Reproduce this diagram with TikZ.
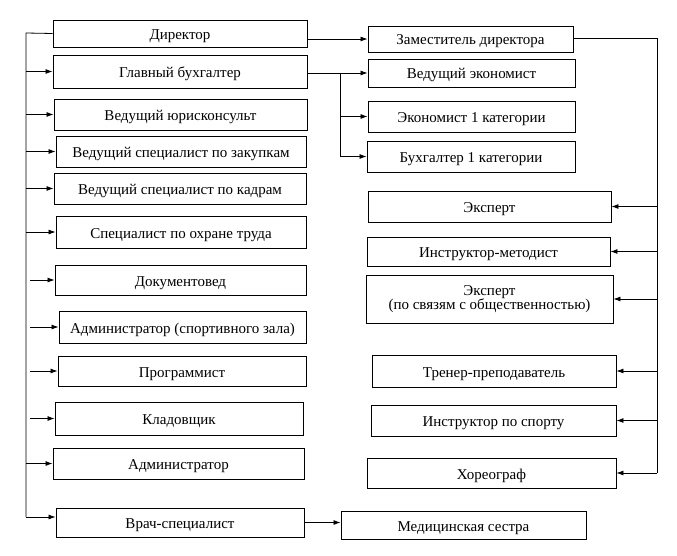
\documentclass[tikz,border=0pt]{standalone}
\usepackage{fontspec}
\setmainfont{Liberation Serif}
\usetikzlibrary{arrows.meta}
\begin{document}
\begin{tikzpicture}[x=1pt,y=-1pt,
  boxbase/.style={draw, line width=0.9pt, inner sep=0pt, font=\fontsize{15}{14.5}\selectfont, align=center},
  box/.style={boxbase, text height=13pt, text depth=1pt},
  arr/.style={-{Latex[length=7pt,width=5pt]}, line width=0.8pt},
  ln/.style={line width=0.8pt}]
\useasboundingbox (0,0) rectangle (677,556);
% left column
\node[box, minimum width=254pt, minimum height=27pt] (dir) at (180,33.5) {Директор};
\node[box, minimum width=254pt, minimum height=33pt] (gb) at (180,71.5) {Главный бухгалтер};
\node[box, minimum width=253pt, minimum height=31pt] (yur) at (180.5,114.5) {Ведущий юрисконсульт};
\node[box, minimum width=250pt, minimum height=31pt] (zak) at (181,151.5) {Ведущий специалист по закупкам};
\node[box, minimum width=252pt, minimum height=31pt] (kad) at (180,188.5) {Ведущий специалист по кадрам};
\node[box, minimum width=250pt, minimum height=32pt] (ohr) at (181,232) {Специалист по охране труда};
\node[box, minimum width=251pt, minimum height=30pt] (dok) at (180.5,280) {Документовед};
\node[box, minimum width=247pt, minimum height=32pt] (adms) at (182.5,327) {Администратор (спортивного зала)};
\node[box, minimum width=248pt, minimum height=30pt] (prog) at (182,371) {Программист};
\node[box, minimum width=248pt, minimum height=33pt] (klad) at (179,418.5) {Кладовщик};
\node[box, minimum width=251pt, minimum height=31pt] (adm) at (178.5,463.5) {Администратор};
\node[box, minimum width=248pt, minimum height=29pt] (vrach) at (180,522.5) {Врач-специалист};
% right column
\node[box, minimum width=205pt, minimum height=26pt] (zam) at (470.5,39) {Заместитель директора};
\node[box, minimum width=207pt, minimum height=28pt] (ve) at (471.5,73) {Ведущий экономист};
\node[box, minimum width=207pt, minimum height=31pt] (ek1) at (471.5,116.5) {Экономист 1 категории};
\node[box, minimum width=208pt, minimum height=31pt] (bu1) at (471,156.5) {Бухгалтер 1 категории};
\node[box, minimum width=243pt, minimum height=31pt] (eks) at (489.5,206.5) {Эксперт};
\node[box, minimum width=243pt, minimum height=29pt] (inm) at (488.5,251.5) {Инструктор-методист};
\node[boxbase, minimum width=247pt, minimum height=48pt] (eks2) at (489.5,299) {Эксперт\\(по связям с общественностью)};
\node[box, minimum width=244pt, minimum height=32pt] (tren) at (494,371) {Тренер-преподаватель};
\node[box, minimum width=245pt, minimum height=31pt] (insp) at (493.5,420.5) {Инструктор по спорту};
\node[box, minimum width=249pt, minimum height=30pt] (hor) at (491.5,473) {Хореограф};
\node[box, minimum width=245pt, minimum height=28pt] (med) at (463.5,525) {Медицинская сестра};
% left bus
\coordinate (LT) at (26,33);
\coordinate (LB) at (26,517);
\draw[ln] (dir.west) -- (LT) -- (LB);
\foreach \n in {gb,yur,zak,kad,ohr,adm} \draw[arr] (\n.west -| LT) -- (\n.west);
\draw[arr] (LB) -- (vrach.west |- LB);
\foreach \n in {dok,adms,prog,klad} \draw[arr] ([xshift=4pt]\n.west -| LT) -- (\n.west);
% director to deputy
\draw[arr] (dir.east |- zam.west) -- (zam.west);
% chief accountant branch
\coordinate (BR) at (340,73);
\draw[arr] (gb.east |- ve.west) -- (ve.west);
\draw[ln] (BR) -- (BR |- bu1.west);
\draw[arr] (BR |- ek1.west) -- (ek1.west);
\draw[arr] (BR |- bu1.west) -- (bu1.west);
% right bus
\coordinate (RT) at (657,38);
\draw[ln] (zam.east |- RT) -- (RT) -- (RT |- hor.east);
\foreach \n in {eks,inm,eks2,tren,insp,hor} \draw[arr] (\n.east -| RT) -- (\n.east);
% doctor to nurse
\draw[arr] (vrach.east) -- (med.west |- vrach.east);
\end{tikzpicture}
\end{document}
